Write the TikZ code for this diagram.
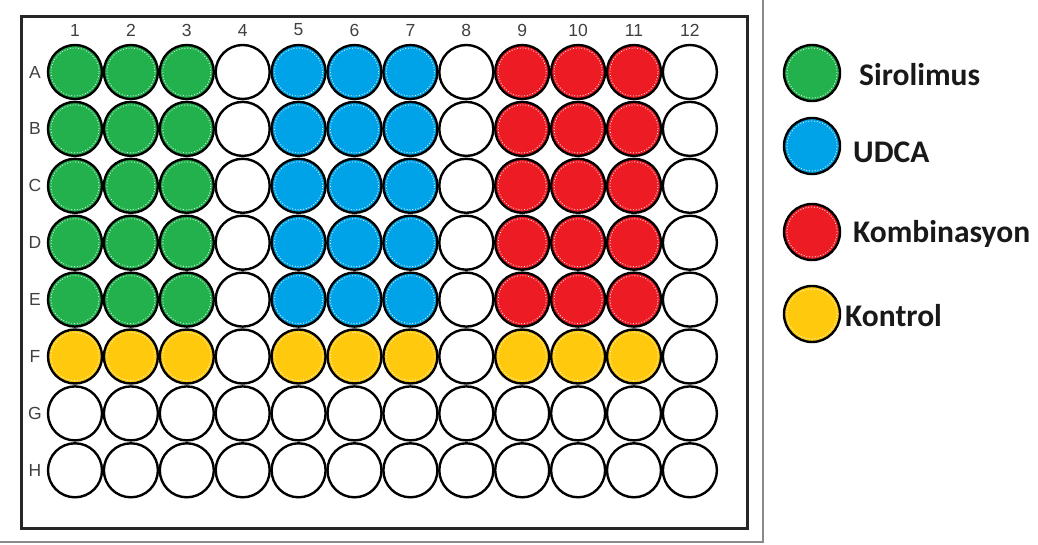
\documentclass[tikz,border=0pt]{standalone}
\usepackage{fontspec}
\setmainfont{Carlito}
\newfontfamily\labfont{Liberation Sans}
\definecolor{wgreen}{HTML}{22B14C}
\definecolor{wblue}{HTML}{00A2E8}
\definecolor{wred}{HTML}{ED1C24}
\definecolor{wyellow}{HTML}{FFC90E}
\definecolor{frame}{HTML}{8A8A8A}
\tikzset{
  well/.style={circle, draw=black, line width=2.4pt, minimum size=54pt, inner sep=0pt, fill=white},
  dotring/.style={draw=white, line width=0.8pt, dotted},
  axislab/.style={font=\labfont\fontsize{17.5}{17.5}\selectfont, text=black!75, inner sep=0pt},
  legtext/.style={font=\bfseries\fontsize{31.5}{31.5}\selectfont, anchor=west, inner sep=0pt, text=black!90},
  plate/.style={draw=black!85, line width=2.6pt},
  outer/.style={draw=frame, line width=1.3pt}
}
\begin{document}
\begin{tikzpicture}[x=1pt,y=-1pt]
\useasboundingbox (0,0) rectangle (1038,545);
\fill[white] (0,0) rectangle (1038,545);
% outer frame lines
\coordinate (oTR) at (763,0);
\coordinate (oBR) at (763,542);
\coordinate (oBL) at (0,542);
\draw[outer] (oTR) -- (oBR) -- (oBL);
% plate
\node[plate, minimum width=726pt, minimum height=512pt, inner sep=0pt, anchor=north west] (plate) at (20,15) {};
% column labels
\foreach \c in {1,...,12}{
  \node[axislab] (col\c) at ({75+55.9*(\c-1)},30) {\c};
}
% row labels
\foreach \r/\L in {0/A,1/B,2/C,3/D,4/E,5/F,6/G,7/H}{
  \node[axislab] (row\L) at (35,{72+56.9*\r}) {\L};
}
% wells
\foreach \r/\L in {0/A,1/B,2/C,3/D,4/E,5/F,6/G,7/H}{
  \foreach \c in {1,...,12}{
    \pgfmathtruncatemacro{\grp}{\c<4 ? 1 : (\c==4 ? 0 : (\c<8 ? 2 : (\c==8 ? 0 : (\c<12 ? 3 : 0))))}
    \pgfmathtruncatemacro{\code}{\r<5 ? \grp : (\r==5 ? (\grp>0 ? 4 : 0) : 0)}
    \ifcase\code
      \def\wc{white}\or\def\wc{wgreen}\or\def\wc{wblue}\or\def\wc{wred}\or\def\wc{wyellow}\fi
    \node[well, fill=\wc] (w\L\c) at ({75+55.9*(\c-1)},{72+56.9*\r}) {};
    \ifnum\code>0
      \draw[dotring] (w\L\c.center) circle (24pt);
    \fi
  }
}
% legend
\node[well, fill=wgreen, minimum size=56pt] (lg1) at (812,73) {};
\draw[dotring] (lg1.center) circle (25pt);
\node[legtext] (lt1) at (859,75) {Sirolimus};
\node[well, fill=wblue, minimum size=56pt] (lg2) at (812,146) {};
\draw[dotring] (lg2.center) circle (25pt);
\node[legtext] (lt2) at (853,152) {UDCA};
\node[well, fill=wred, minimum size=56pt] (lg3) at (812,232) {};
\draw[dotring] (lg3.center) circle (25pt);
\node[legtext] (lt3) at (853,234) {Kombinasyon};
\node[well, fill=wyellow, minimum size=56pt] (lg4) at (812,314) {};
\draw[dotring] (lg4.center) circle (25pt);
\node[legtext] (lt4) at (845,316) {Kontrol};
\end{tikzpicture}
\end{document}
